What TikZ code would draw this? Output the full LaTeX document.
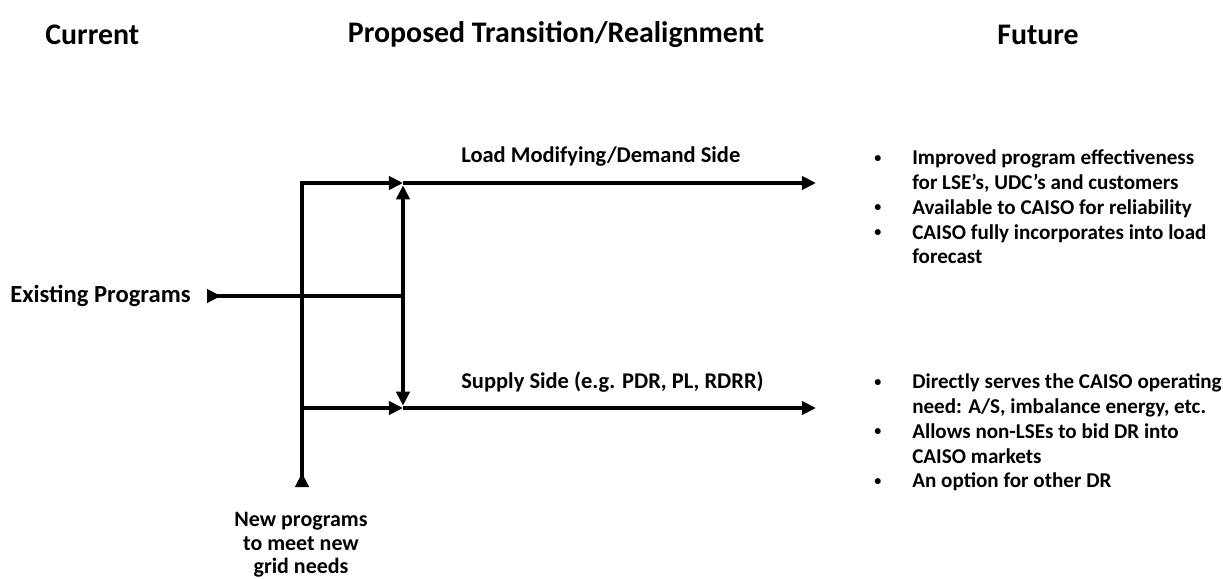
\documentclass[tikz,border=0pt]{standalone}
\usepackage{fontspec}
\setmainfont{Carlito}
\usetikzlibrary{arrows.meta, positioning}

\newcommand{\bul}{\makebox[21.6pt][l]{\raisebox{1.2pt}{\fontsize{8}{8}\selectfont\textbullet}}}
\newcommand{\nob}{\hspace*{21.6pt}}

\begin{document}
\begin{tikzpicture}[
        x=0.02cm, y=-0.02cm,
        flow/.style={draw, line width=2.3pt, -{Triangle[length=8pt, width=7.5pt]}},
        head/.style={font=\bfseries\fontsize{17}{20}\selectfont, inner sep=0pt},
        label/.style={font=\bfseries\fontsize{12.8}{14.2}\selectfont, inner sep=0pt, align=center},
        points/.style={font=\bfseries\fontsize{12}{14.2}\selectfont, inner sep=0pt, align=left, anchor=north west}
    ]
    \useasboundingbox (0,0) rectangle (1223,578);

    % Column headings
    \node[head, anchor=west] (current) at (45,35) {Current};
    \node[head] (proposed) at (556,35) {Proposed Transition/Realignment};
    \node[head] (future) at (1038,35) {Future};

    % Corner points of the flow lines
    \coordinate (exist) at (207,296);
    \coordinate (hub) at (403,296);
    \coordinate (newp) at (302,487);
    \coordinate (topl) at (302,183);
    \coordinate (botl) at (302,408);
    \coordinate (topm) at (403,183);
    \coordinate (botm) at (403,408);
    \coordinate (tope) at (816,183);
    \coordinate (bote) at (816,408);

    % Inputs
    \node[label, font=\bfseries\fontsize{14}{14.2}\selectfont, anchor=west] (existing) at (10,296) {Existing Programs};
    \draw[flow, {Triangle[reversed, length=8pt, width=7.5pt]}-] (exist) -- (hub);
    \draw[flow, {Triangle[reversed, length=8pt, width=7.5pt]}-{Triangle[length=8pt, width=7.5pt]}]
        (newp) -- (topl) -- (topm);
    \draw[flow] (botl) -- (botm);
    \node[label, font=\bfseries\fontsize{12.5}{13.4}\selectfont] (newprog) at (301,545) {New programs\\to meet new\\grid needs};

    % Two sides
    \draw[flow] (topm) -- (tope);
    \draw[flow] (botm) -- (bote);
    \draw[flow, {Triangle[length=8pt, width=7.5pt]}-{Triangle[length=8pt, width=7.5pt]},
        shorten <=1.3pt, shorten >=1.3pt] (topm) -- (botm);
    \node[label, anchor=west] (demand) at (461,157) {Load Modifying/Demand Side};
    \node[label, anchor=west] (supply) at (461,382) {Supply Side (e.g. PDR, PL, RDRR)};

    % Future outcomes
    \node[points] (loadpts) at (874,149) {\bul Improved program effectiveness\\
        \nob for LSE’s, UDC’s and customers\\
        \bul Available to CAISO for reliability\\
        \bul CAISO fully incorporates into load\\
        \nob forecast};
    \node[points] (supplypts) at (874,373) {\bul Directly serves the CAISO operating\\
        \nob need: A/S, imbalance energy, etc.\\
        \bul Allows non-LSEs to bid DR into\\
        \nob CAISO markets\\
        \bul An option for other DR};

\end{tikzpicture}
\end{document}
